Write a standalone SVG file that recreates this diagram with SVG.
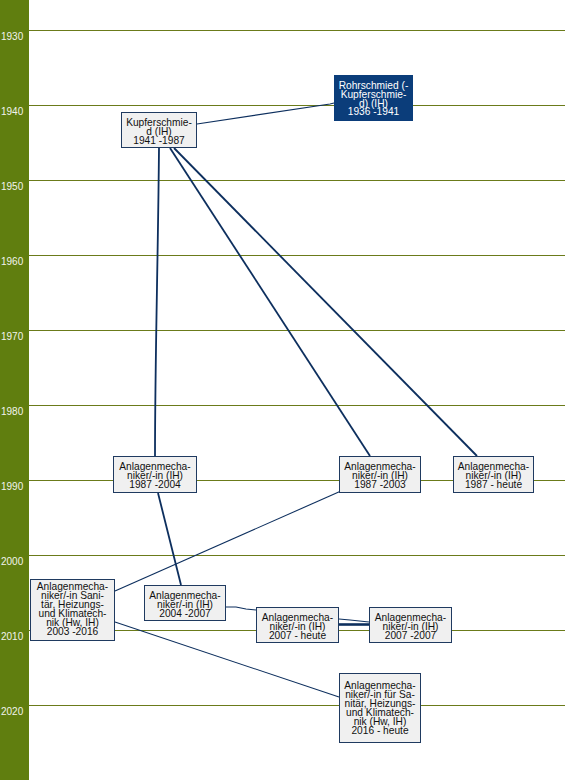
<svg xmlns="http://www.w3.org/2000/svg" width="565" height="780" viewBox="0 0 565 780">
<style>
.bg{fill:#ffffff}
.side{fill:#607e0f}
.grid{stroke:#6b7b1a;stroke-width:1}
.yr{font-family:"Liberation Sans",Arial,sans-serif;font-size:10px;fill:#f2f4ec}
.node rect{fill:#f0f0f0;stroke:#1f3a60;stroke-width:1}
.node text{font-family:"Liberation Sans",Arial,sans-serif;font-size:10.2px;fill:#111111;text-anchor:middle}
.dark rect{fill:#0b3d7a;stroke:#0b3d7a}
.dark text{fill:#ffffff}
.c{fill:none;stroke:#0d2f5e}
.w1{stroke-width:1.1}
.w2{stroke-width:1.8}
</style>
<rect class="bg" x="0" y="0" width="565" height="780"/>
<rect class="side" x="0" y="0" width="29" height="780"/>
<g id="grid">
<line class="grid" x1="29" y1="30.5" x2="565" y2="30.5"/>
<line class="grid" x1="29" y1="105.5" x2="565" y2="105.5"/>
<line class="grid" x1="29" y1="180.5" x2="565" y2="180.5"/>
<line class="grid" x1="29" y1="255.5" x2="565" y2="255.5"/>
<line class="grid" x1="29" y1="330.5" x2="565" y2="330.5"/>
<line class="grid" x1="29" y1="405.5" x2="565" y2="405.5"/>
<line class="grid" x1="29" y1="480.5" x2="565" y2="480.5"/>
<line class="grid" x1="29" y1="555.5" x2="565" y2="555.5"/>
<line class="grid" x1="29" y1="630.5" x2="565" y2="630.5"/>
<line class="grid" x1="29" y1="705.5" x2="565" y2="705.5"/>
<text class="yr" x="1" y="40">1930</text>
<text class="yr" x="1" y="115">1940</text>
<text class="yr" x="1" y="190">1950</text>
<text class="yr" x="1" y="265">1960</text>
<text class="yr" x="1" y="340">1970</text>
<text class="yr" x="1" y="415">1980</text>
<text class="yr" x="1" y="490">1990</text>
<text class="yr" x="1" y="565">2000</text>
<text class="yr" x="1" y="640">2010</text>
<text class="yr" x="1" y="715">2020</text>
</g>
<g id="connectors">
<path class="c w1" d="M197,124 L330,104 L334,103"/>
<path class="c w2" d="M159,148 C158,260 155,360 155,456"/>
<path class="c w2" d="M170,148 L370,456"/>
<path class="c w2" d="M174,148 L477,456"/>
<path class="c w2" d="M158,493 L181,585"/>
<path class="c w1" d="M341,491 L115,591"/>
<path class="c w1" d="M115,622 L339,697"/>
<path class="c w1" d="M226,607 L236,607 L246,609 L256,610"/>
<path class="c w1" d="M339,619 L350,620 L369,622"/>
<path class="c" style="stroke-width:2.6" d="M339,624.5 L369,624.5"/>
</g>
<g id="n1" class="node dark">
<rect x="334.5" y="75.5" width="78" height="45"/>
<text x="373.5" y="89"><tspan x="373.5">Rohrschmied (-</tspan><tspan x="373.5" dy="8.8">Kupferschmie-</tspan><tspan x="373.5" dy="8.8">d) (IH)</tspan><tspan x="373.5" dy="8.8">1936 -1941</tspan></text>
</g>
<g id="n2" class="node">
<rect x="121.5" y="112.5" width="75" height="35"/>
<text x="159" y="126"><tspan x="159">Kupferschmie-</tspan><tspan x="159" dy="8.8">d (IH)</tspan><tspan x="159" dy="8.8">1941 -1987</tspan></text>
</g>
<g id="n3" class="node">
<rect x="113.5" y="456.5" width="83" height="36"/>
<text x="155" y="470"><tspan x="155">Anlagenmecha-</tspan><tspan x="155" dy="8.8">niker/-in (IH)</tspan><tspan x="155" dy="8.8">1987 -2004</tspan></text>
</g>
<g id="n4" class="node">
<rect x="339.5" y="456.5" width="81" height="36"/>
<text x="380" y="470"><tspan x="380">Anlagenmecha-</tspan><tspan x="380" dy="8.8">niker/-in (IH)</tspan><tspan x="380" dy="8.8">1987 -2003</tspan></text>
</g>
<g id="n5" class="node">
<rect x="453.5" y="456.5" width="80" height="36"/>
<text x="493.5" y="470"><tspan x="493.5">Anlagenmecha-</tspan><tspan x="493.5" dy="8.8">niker/-in (IH)</tspan><tspan x="493.5" dy="8.8">1987 - heute</tspan></text>
</g>
<g id="n6" class="node">
<rect x="30.5" y="579.5" width="84" height="61"/>
<text x="72.5" y="590"><tspan x="72.5">Anlagenmecha-</tspan><tspan x="72.5" dy="8.9">niker/-in Sani-</tspan><tspan x="72.5" dy="8.9">tär, Heizungs-</tspan><tspan x="72.5" dy="8.9">und Klimatech-</tspan><tspan x="72.5" dy="8.9">nik (Hw, IH)</tspan><tspan x="72.5" dy="8.9">2003 -2016</tspan></text>
</g>
<g id="n7" class="node">
<rect x="144.5" y="585.5" width="81" height="35"/>
<text x="185" y="599"><tspan x="185">Anlagenmecha-</tspan><tspan x="185" dy="8.8">niker/-in (IH)</tspan><tspan x="185" dy="8.8">2004 -2007</tspan></text>
</g>
<g id="n8" class="node">
<rect x="256.5" y="607.5" width="82" height="35"/>
<text x="297.5" y="621"><tspan x="297.5">Anlagenmecha-</tspan><tspan x="297.5" dy="8.8">niker/-in (IH)</tspan><tspan x="297.5" dy="8.8">2007 - heute</tspan></text>
</g>
<g id="n9" class="node">
<rect x="369.5" y="607.5" width="82" height="35"/>
<text x="410.5" y="621"><tspan x="410.5">Anlagenmecha-</tspan><tspan x="410.5" dy="8.8">niker/-in (IH)</tspan><tspan x="410.5" dy="8.8">2007 -2007</tspan></text>
</g>
<g id="n10" class="node">
<rect x="339.5" y="673.5" width="81" height="69"/>
<text x="380" y="689"><tspan x="380">Anlagenmecha-</tspan><tspan x="380" dy="8.9">niker/-in für Sa-</tspan><tspan x="380" dy="8.9">nitär, Heizungs-</tspan><tspan x="380" dy="8.9">und Klimatech-</tspan><tspan x="380" dy="8.9">nik (Hw, IH)</tspan><tspan x="380" dy="8.9">2016 - heute</tspan></text>
</g>
</svg>
